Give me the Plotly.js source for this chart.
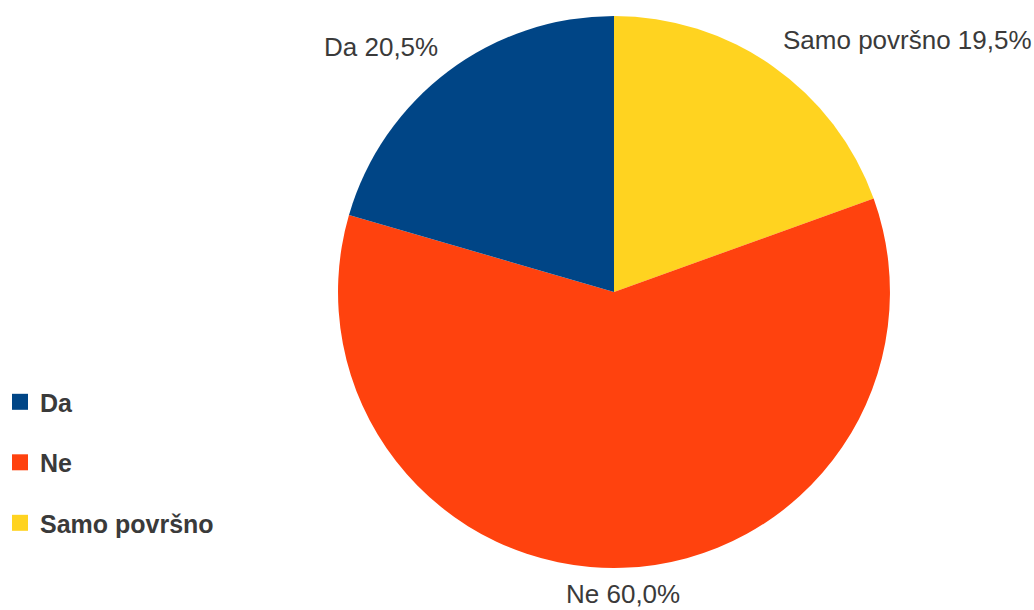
<!DOCTYPE html>
<html>
<head>
<meta charset="utf-8">
<script src="https://cdn.plot.ly/plotly-3.0.1.min.js"></script>
<style>html,body{margin:0;padding:0;background:#fff}#chart{width:1034px;height:610px}</style>
</head>
<body>
<div id="chart"></div>
<script>
const categories = ["Da", "Ne", "Samo površno"];
const values = [20.5, 60.0, 19.5];
const colors = ["#004586", "#ff420e", "#ffd320"];

// pie drawn clockwise from 12 o'clock in reverse category order
const pieLabels = categories.slice().reverse();
const pieValues = values.slice().reverse();
const pieColors = colors.slice().reverse();

const FONT = "Liberation Sans, Arial, sans-serif";
const TEXT_COLOR = "#3a3a3a";

const total = values.reduce((a, b) => a + b, 0);
const pctText = v => (v / total * 100).toFixed(1).replace(".", ",") + "%";

// label placement (paper coords) for each category
const labelPos = [
  {x: 0.4255, y: 0.9225, xanchor: "right"},
  {x: 0.6025, y: 0.0255, xanchor: "center"},
  {x: 0.7553, y: 0.9340, xanchor: "left"}
];

const pie = {
  type: "pie",
  labels: pieLabels,
  values: pieValues,
  sort: false,
  direction: "clockwise",
  rotation: 0,
  marker: {colors: pieColors, line: {width: 0}},
  textposition: "none",
  showlegend: false,
  hoverinfo: "label+percent",
  domain: {x: [0.3269, 0.8607], y: [0.0689, 0.9738]}
};

const legendTraces = categories.map((c, i) => ({
  type: "scatter",
  mode: "markers",
  x: [null], y: [null],
  name: c,
  legendgroup: c,
  marker: {symbol: "square", size: 16, color: colors[i]},
  showlegend: true,
  hoverinfo: "skip"
}));

const annotations = categories.map((c, i) => ({
  xref: "paper", yref: "paper",
  x: labelPos[i].x, y: labelPos[i].y,
  xanchor: labelPos[i].xanchor, yanchor: "middle",
  showarrow: false,
  text: c + " " + pctText(values[i]),
  font: {family: FONT, size: 26, color: TEXT_COLOR}
}));

const layout = {
  width: 1034, height: 610,
  margin: {l: 0, r: 0, t: 0, b: 0},
  paper_bgcolor: "#fff",
  plot_bgcolor: "#fff",
  separators: ",.",
  xaxis: {visible: false},
  yaxis: {visible: false},
  showlegend: true,
  annotations: annotations,
  legend: {
    x: 0, y: 0.3786, xanchor: "left", yanchor: "top",
    font: {family: FONT, size: 25, color: TEXT_COLOR, weight: "bold"},
    tracegroupgap: 25,
    itemclick: false, itemdoubleclick: false
  }
};

Plotly.newPlot("chart", [pie].concat(legendTraces), layout, {displayModeBar: false, staticPlot: true});
</script>
</body>
</html>
